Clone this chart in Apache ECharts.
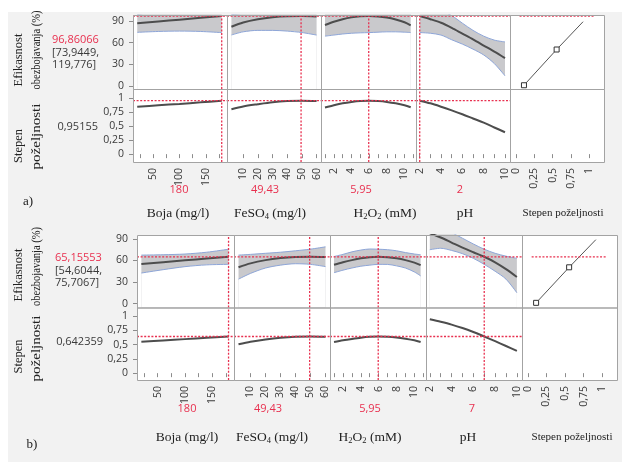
<!DOCTYPE html>
<html>
<head>
<meta charset="utf-8">
<script src="https://cdn.jsdelivr.net/npm/echarts@6/dist/echarts.min.js"></script>
<style>
html, body { margin: 0; padding: 0; background: #fff; }
#sheet { position: absolute; left: 8px; top: 12px; width: 614px; height: 450px; background: #f2f2f2; }
#chart { position: absolute; left: 0; top: 0; width: 625px; height: 466px; }
</style>
</head>
<body>
<div id="sheet"></div>
<div id="chart"></div>
<script>
// factor grids (x values of each profile trace)
var bojaX = [20, 60, 100, 140, 180];
var feso4X = [2, 10, 20, 30, 40, 50, 60];
var h2o2X = [1, 2, 3, 4, 5, 5.95, 7, 8, 9, 10, 10.7];
var phX = [2, 3, 4, 5, 6, 7, 8, 9, 10];

// tick labels
var bojaTicks = [50, 100, 150];
var bojaMinor = [25, 50, 75, 100, 125, 150, 175];
var feso4Ticks = [10, 20, 30, 40, 50, 60];
var h2o2Ticks = [2, 4, 6, 8, 10];
var h2o2Minor = [1, 2, 3, 4, 5, 6, 7, 8, 9, 10, 11];
var phTicks = [2, 4, 6, 8, 10];
var phMinor = [2, 3, 4, 5, 6, 7, 8, 9, 10];
var desTicks = [0, 0.25, 0.5, 0.75, 1];
var effTicks = [0, 30, 60, 90];

// a) efikasnost obezbojavanja (%) - prediction, lower and upper limit
var aEffBoja = [86.8, 89.3, 91.8, 94.4, 96.9];
var aEffBojaLo = [74.3, 75.5, 76, 75.5, 73.9];
var aEffBojaHi = [99.3, 103.1, 107.6, 113.3, 119.8];
var aEffFeso4 = [82, 88, 92.5, 95.3, 96.7, 96.9, 96.3];
var aEffFeso4Lo = [70.6, 75, 77, 77, 76, 74, 70.5];
var aEffFeso4Hi = [99, 101, 108, 113.6, 117.4, 119.8, 122];
var aEffH2o2 = [84.5, 89, 92.5, 95, 96.4, 96.9, 96.3, 94.7, 92, 88.3, 84];
var aEffH2o2Lo = [69, 70.5, 72, 73, 73.6, 73.9, 74.5, 75, 75, 74.5, 74];
var aEffH2o2Hi = [100, 107, 113, 117, 119, 119.8, 118, 114, 109, 104, 100];
var aEffPh = [96.9, 92.5, 87.5, 80.5, 72.5, 64.5, 56, 47.5, 38.5];
var aEffPhLo = [74, 73, 70.5, 64, 58, 51, 43, 31, 14];
var aEffPhHi = [119.8, 112, 104.5, 97.5, 87, 77, 69, 63.5, 61];
// a) stepen poželjnosti
var aDesBoja = [0.845, 0.87, 0.895, 0.922, 0.952];
var aDesFeso4 = [0.80, 0.85, 0.89, 0.925, 0.945, 0.952, 0.945];
var aDesH2o2 = [0.83, 0.87, 0.905, 0.93, 0.947, 0.952, 0.945, 0.93, 0.905, 0.87, 0.835];
var aDesPh = [0.952, 0.905, 0.845, 0.78, 0.71, 0.635, 0.56, 0.475, 0.39];

// b) efikasnost obezbojavanja (%)
var bEffBoja = [55, 57.6, 60.2, 62.7, 65.2];
var bEffBojaLo = [42.5, 47.2, 51.4, 53.9, 54.6];
var bEffBojaHi = [67.5, 68, 69, 71.5, 75.7];
var bEffFeso4 = [50.5, 56, 60.5, 63.3, 64.8, 65.2, 64.8];
var bEffFeso4Lo = [34, 42, 49.5, 53.5, 55.5, 54.6, 51.5];
var bEffFeso4Hi = [67.5, 68.5, 70, 71.5, 73.5, 75.8, 79];
var bEffH2o2 = [54, 57.5, 60.5, 63, 64.6, 65.2, 64.6, 63, 60.5, 57, 53.5];
var bEffH2o2Lo = [43, 46.5, 49.5, 52, 53.5, 54.6, 54.5, 52.5, 49.5, 44, 38.5];
var bEffH2o2Hi = [65.5, 68.5, 72, 74.5, 76, 75.7, 75, 73.5, 71, 69, 68];
var bEffPh = [98, 92, 85, 78, 71.5, 65.2, 57.5, 48, 37];
var bEffPhLo = [75, 77, 74, 69.5, 63, 54.6, 45, 34, 15];
var bEffPhHi = [121, 107, 99, 91, 83, 75.7, 70, 66, 63];
// b) stepen poželjnosti
var bDesBoja = [0.55, 0.573, 0.596, 0.619, 0.642];
var bDesFeso4 = [0.505, 0.55, 0.59, 0.62, 0.637, 0.642, 0.638];
var bDesH2o2 = [0.545, 0.575, 0.6, 0.622, 0.637, 0.642, 0.638, 0.625, 0.603, 0.575, 0.545];
var bDesPh = [0.945, 0.9, 0.85, 0.79, 0.72, 0.642, 0.56, 0.475, 0.39];

// desirability function (desirability, response)
var desFnX = [0.11, 0.555, 0.915];
var desFnY = [1, 50.5, 89];

// current settings
var aSettings = [180, 49.43, 5.95, 2];
var aSettingText = ['180', '49,43', '5,95', '2'];
var aPred = 96.86066, aDes = 0.95155;
var aPredText = ['96,86066', '[73,9449,', '119,776]', '0,95155'];
var bSettings = [180, 49.43, 5.95, 7];
var bSettingText = ['180', '49,43', '5,95', '7'];
var bPred = 65.15553, bDes = 0.642359;
var bPredText = ['65,15553', '[54,6044,', '75,7067]', '0,642359'];

var SERIF = '"Liberation Serif", "Times New Roman", serif';
var SANS = '"Open Sans", "Noto Sans", sans-serif';
var RED = '#e8304f';
var INK = '#3a3a3a';
var CURVE = '#4d4d4d';
var BLUE = '#8ea6d8';
var BAND = '#c9c9cc';
var FRAME = '#a3a3a3';

function comma(v) { return String(v).replace('.', ','); }
function pairs(xs, ys) { return xs.map(function (x, k) { return [x, ys[k]]; }); }

var grids = [], xAxes = [], yAxes = [], series = [], graphic = [];

var xScales = [
  { min: 12, max: 190, ticks: bojaMinor, labels: bojaTicks },
  { min: -1, max: 63, ticks: feso4Ticks, labels: feso4Ticks },
  { min: 0.55, max: 11.3, ticks: h2o2Minor, labels: h2o2Ticks },
  { min: 1.65, max: 10.47, ticks: phMinor, labels: phTicks },
  { min: -0.08, max: 1.2, ticks: desTicks, labels: desTicks }
];

function makeGrid(box, xs, yr, yTicks, showX, showY) {
  var i = grids.length;
  grids.push({
    left: box[0], top: box[1], width: box[2] - box[0], height: box[3] - box[1],
    show: true, backgroundColor: '#fff', borderWidth: 0, outerBoundsMode: 'none'
  });
  // frame drawn on top of the series
  graphic.push({
    type: 'rect', z: 50, silent: true,
    shape: { x: box[0] + 0.5, y: box[1] + 0.5, width: box[2] - box[0], height: box[3] - box[1] },
    style: { fill: 'none', stroke: FRAME, lineWidth: 1 }
  });
  xAxes.push({
    type: 'value', gridIndex: i, min: xs.min, max: xs.max,
    axisLine: { show: false }, splitLine: { show: false },
    axisTick: { show: showX, length: 4, customValues: xs.ticks, lineStyle: { color: '#8c8c8c' } },
    axisLabel: { show: showX, rotate: 90, customValues: xs.labels, formatter: comma,
      fontSize: 10.5, fontFamily: SANS, color: INK, margin: 6 }
  });
  yAxes.push({
    type: 'value', gridIndex: i, min: yr[0], max: yr[1],
    axisLine: { show: false }, splitLine: { show: false },
    axisTick: { show: showY, length: 4, customValues: yTicks, lineStyle: { color: '#8c8c8c' } },
    axisLabel: { show: showY, customValues: yTicks, formatter: comma,
      fontSize: 10.5, fontFamily: SANS, color: INK, margin: 9 }
  });
  return i;
}

function refLine(gi, pts) {
  series.push({
    type: 'line', xAxisIndex: gi, yAxisIndex: gi, data: pts, symbol: 'none',
    silent: true, animation: false, z: 4, color: RED,
    lineStyle: { color: RED, type: [2, 1.6], width: 1.3, opacity: 1 }
  });
}

// grey confidence band: upper filled grey down to the axis, lower covers it with white
function addBand(gi, xs, lo, hi) {
  series.push({
    type: 'line', xAxisIndex: gi, yAxisIndex: gi, data: pairs(xs, hi),
    smooth: 0.3, symbol: 'none', silent: true, animation: false, z: 2,
    lineStyle: { color: BLUE, width: 1 }, areaStyle: { color: BAND, opacity: 1, origin: 'start' }
  });
  series.push({
    type: 'line', xAxisIndex: gi, yAxisIndex: gi, data: pairs(xs, lo),
    smooth: 0.3, symbol: 'none', silent: true, animation: false, z: 2,
    lineStyle: { color: BLUE, width: 1 }, areaStyle: { color: '#fff', opacity: 1, origin: 'start' }
  });
}

function addCurve(gi, xs, ys) {
  series.push({
    type: 'line', xAxisIndex: gi, yAxisIndex: gi, data: pairs(xs, ys),
    smooth: 0.3, symbol: 'none', silent: true, animation: false, z: 3,
    lineStyle: { color: CURVE, width: 2 }
  });
}

function buildPanel(cols, rows, effRange, desRange, eff, des, settings, pred, desVal) {
  var xsList = [bojaX, feso4X, h2o2X, phX];
  for (var c = 0; c < 5; c++) {
    var xs = xScales[c];
    var top = makeGrid([cols[c], rows[0], cols[c + 1], rows[1]], xs, effRange, effTicks, false, c === 0);
    var bot = makeGrid([cols[c], rows[1], cols[c + 1], rows[2]], xs, desRange, desTicks, true, c === 0);
    if (c < 4) {
      addBand(top, xsList[c], eff[c][1], eff[c][2]);
      addCurve(top, xsList[c], eff[c][0]);
      addCurve(bot, xsList[c], des[c]);
      refLine(top, [[settings[c], effRange[0]], [settings[c], effRange[1]]]);
      refLine(top, [[xs.min, pred], [xs.max, pred]]);
      refLine(bot, [[settings[c], desRange[0]], [settings[c], desRange[1]]]);
      refLine(bot, [[xs.min, desVal], [xs.max, desVal]]);
    } else {
      series.push({
        type: 'line', xAxisIndex: top, yAxisIndex: top, silent: true, animation: false, z: 3,
        data: desFnX.map(function (x, k) {
          return { value: [x, desFnY[k]], symbol: k < 2 ? 'rect' : 'none' };
        }),
        showSymbol: true, symbolSize: 5,
        itemStyle: { color: '#fff', borderColor: '#333', borderWidth: 1 },
        lineStyle: { color: '#555', width: 1 }
      });
      refLine(top, [[0.05, pred], [1.06, pred]]);
    }
  }
}

buildPanel([133, 227, 321, 416, 510, 604], [15, 89, 162], [-4.2, 98.3], [-0.14, 1.16],
  [[aEffBoja, aEffBojaLo, aEffBojaHi], [aEffFeso4, aEffFeso4Lo, aEffFeso4Hi],
   [aEffH2o2, aEffH2o2Lo, aEffH2o2Hi], [aEffPh, aEffPhLo, aEffPhHi]],
  [aDesBoja, aDesFeso4, aDesH2o2, aDesPh], aSettings, aPred, aDes);

buildPanel([137, 234, 330, 426, 522, 617], [235, 307.5, 380], [-5.5, 95.5], [-0.12, 1.15],
  [[bEffBoja, bEffBojaLo, bEffBojaHi], [bEffFeso4, bEffFeso4Lo, bEffFeso4Hi],
   [bEffH2o2, bEffH2o2Lo, bEffH2o2Hi], [bEffPh, bEffPhLo, bEffPhHi]],
  [bDesBoja, bDesFeso4, bDesH2o2, bDesPh], bSettings, bPred, bDes);

// texts
function text(x, y, s, st, rot, sx) {
  graphic.push({
    type: 'text', x: x, y: y, rotation: rot || 0, scaleX: sx || 1, silent: true,
    style: Object.assign({ text: s, fill: '#222', fontFamily: SERIF, fontSize: 13,
      align: 'center', verticalAlign: 'middle' }, st || {})
  });
}
var subRich = {
  n: { fontFamily: SERIF, fontSize: 13.5, fill: '#222' },
  s: { fontFamily: SERIF, fontSize: 8.5, fill: '#222', padding: [8, 0, 0, 0] }
};
function names(y, xs) {
  text(xs[0], y, 'Boja (mg/l)', { fontSize: 13.5 });
  text(xs[1], y, '{n|FeSO}{s|4}{n| (mg/l)}', { rich: subRich });
  text(xs[2], y, '{n|H}{s|2}{n|O}{s|2}{n| (mM)}', { rich: subRich });
  text(xs[3], y, 'pH', { fontSize: 13.5 });
  text(xs[4], y, 'Stepen poželjnosti', { fontSize: 11 });
}
function sideLabels(effC, desC, predPos, predText, desY) {
  var R = Math.PI / 2;
  text(19, effC[0], 'Efikasnost', { fontSize: 12.5 }, R);
  text(37, effC[1], 'obezbojavanja (%)', { fontSize: 12.5 }, R, 0.84);
  text(19, desC[0], 'Stepen', { fontSize: 12.5 }, R);
  text(37, desC[1], 'poželjnosti', { fontSize: 12.5 }, R, 1.2);
  var num = { fontFamily: SANS, fontSize: 11, align: 'left' };
  text(predPos[0], predPos[1], predText[0], Object.assign({}, num, { fill: RED }));
  text(predPos[0], predPos[1] + 12.5, predText[1], Object.assign({}, num, { fill: INK }));
  text(predPos[0], predPos[1] + 25, predText[2], Object.assign({}, num, { fill: INK }));
  text(predPos[2], desY, predText[3], Object.assign({}, num, { fill: INK, align: 'right' }));
}
function settingsText(y, xs, labels) {
  for (var k = 0; k < 4; k++) {
    text(xs[k], y, labels[k], { fontFamily: SANS, fontSize: 11, fill: RED });
  }
}

sideLabels([60, 50], [146, 136.5], [52, 40, 98], aPredText, 127);
settingsText(190, [179, 265, 361, 460], aSettingText);
names(213, [178, 270, 385, 465, 563]);
text(28, 202, 'a)', { fontSize: 13 });

sideLabels([275, 266.5], [356.5, 348.5], [55, 258, 103], bPredText, 342);
settingsText(409, [187, 268, 370, 472], bSettingText);
names(437, [187, 272, 370, 468, 572]);
text(32, 445, 'b)', { fontSize: 13 });

var chart = echarts.init(document.getElementById('chart'));
chart.setOption({
  animation: false,
  grid: grids,
  xAxis: xAxes,
  yAxis: yAxes,
  series: series,
  graphic: graphic
});
</script>
</body>
</html>
